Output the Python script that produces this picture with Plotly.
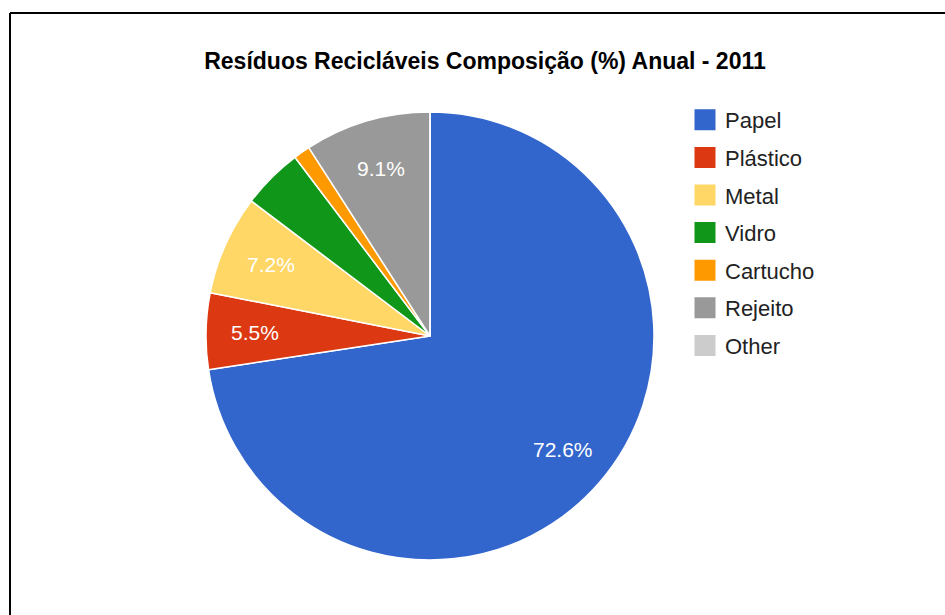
import math
import plotly.graph_objects as go

labels = ["Papel", "Plástico", "Metal", "Vidro", "Cartucho", "Rejeito", "Other"]
values = [72.6, 5.5, 7.2, 4.4, 1.2, 9.1, 0.0]
colors = ["#3366cc", "#dc3912", "#fed766", "#109618", "#ff9900", "#999999", "#cccccc"]
shown_labels = ["72.6%", "5.5%", "7.2%", "", "", "9.1%", ""]
title_text = "Resíduos Recicláveis Composição (%) Anual - 2011"

W, H = 945, 615
FONT = "Arial, 'Liberation Sans', sans-serif"

# pie geometry (pixels)
CX, CY, R = 430, 336, 224
LABEL_R = 0.78

fig = go.Figure()
fig.add_trace(go.Pie(
    labels=labels, values=values, sort=False, direction="clockwise", rotation=0,
    marker=dict(colors=colors, line=dict(color="white", width=1.5)),
    textinfo="none", showlegend=False, hoverinfo="label+percent",
    domain=dict(x=[(CX - R) / W, (CX + R) / W], y=[(H - CY - R) / H, (H - CY + R) / H]),
))

# slice labels placed along each slice bisector
annotations = []
total = sum(values)
cum = 0.0
for v, t in zip(values, shown_labels):
    mid = (cum + v / 2) / total * 2 * math.pi
    cum += v
    if not t:
        continue
    px = CX + LABEL_R * R * math.sin(mid)
    py = CY - LABEL_R * R * math.cos(mid)
    annotations.append(dict(
        text=t, x=px / W, y=1 - py / H, xref="paper", yref="paper",
        xanchor="center", yanchor="middle", showarrow=False,
        font=dict(family=FONT, size=21, color="white"),
    ))

for lab, col in zip(labels, colors):
    fig.add_trace(go.Scatter(
        x=[None], y=[None], mode="markers", name=lab, legendgroup=lab,
        marker=dict(symbol="square", size=16, color=col, line=dict(color=col, width=5)),
    ))

fig.update_layout(
    width=W, height=H, margin=dict(l=0, r=0, t=0, b=0),
    paper_bgcolor="white", plot_bgcolor="white",
    xaxis=dict(visible=False), yaxis=dict(visible=False),
    title=dict(text="<b>" + title_text + "</b>", x=485 / W, y=1 - 61 / H,
               xanchor="center", yanchor="middle",
               font=dict(family=FONT, size=23, color="black")),
    legend=dict(x=685 / W, y=1 - 99 / H, xanchor="left", yanchor="top",
                font=dict(family=FONT, size=22, color="#222222"),
                tracegroupgap=6, itemsizing="trace", bgcolor="rgba(0,0,0,0)"),
    annotations=annotations,
    shapes=[
        dict(type="line", xref="paper", yref="paper", x0=10 / W, x1=1, y0=1 - 13 / H, y1=1 - 13 / H,
             line=dict(color="black", width=2)),
        dict(type="line", xref="paper", yref="paper", x0=10 / W, x1=10 / W, y0=0, y1=1 - 13 / H,
             line=dict(color="black", width=2)),
    ],
)

fig.write_html("out.html")
